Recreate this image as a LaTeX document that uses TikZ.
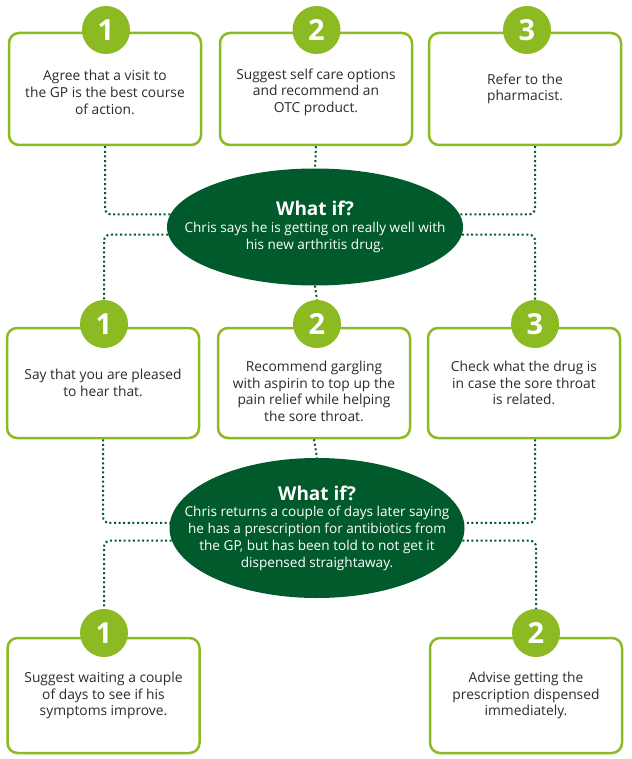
\documentclass[tikz,border=0pt]{standalone}
\usepackage{fontspec}
\setmainfont{Open Sans}
\usetikzlibrary{shapes.geometric}
\definecolor{leaf}{HTML}{8CBA22}
\definecolor{forest}{HTML}{005A2C}
\definecolor{inkgrey}{HTML}{2B2B2B}
\tikzset{
  optbox/.style={draw=leaf, line width=2.5pt, rounded corners=10pt, fill=white,
    minimum width=192pt, align=center, text=inkgrey, inner sep=0pt,
    font=\fontsize{13.8}{16.7}\selectfont},
  numdot/.style={circle, fill=leaf, minimum size=48pt, inner sep=0pt, text=white,
    font=\fontsize{29}{29}\bfseries\selectfont},
  whatif/.style={ellipse, fill=forest, inner sep=0pt},
  whattext/.style={align=center, text=white, inner sep=0pt,
    font=\fontsize{13.6}{16.7}\selectfont},
  link/.style={forest, line width=2pt, dash pattern=on 2pt off 2.6pt, rounded corners=6pt},
}
\newcommand{\whathead}{{\fontsize{19}{19}\bfseries\selectfont What if?}}
% strut on a first line, to push a box text a little down
\newcommand{\pushdown}[1]{\rule{0pt}{#1}}
\begin{document}
\begin{tikzpicture}[x=1pt,y=-1pt]
\useasboundingbox (0,0) rectangle (631,759);
% first row
\node[optbox, minimum height=112pt] (a1) at (105,89) {\pushdown{17pt}Agree that a visit to\\the GP is the best course\\of action.};
\node[optbox, minimum height=112pt] (a2) at (316,89) {\pushdown{17pt}Suggest self care options\\and recommend an\\OTC product.};
\node[optbox, minimum height=112pt] (a3) at (525,89) {Refer to the\\pharmacist.};
% first question
\node[whatif, minimum width=296pt, minimum height=117pt] (whatA) at (315,227) {};
\node[whattext] at (whatA) {\whathead\\Chris says he is getting on really well with\\his new arthritis drug.};
% second row
\node[optbox, minimum height=110pt] (b1) at (103,383) {Say that you are pleased\\to hear that.};
\node[optbox, minimum height=110pt] (b2) at (314,383) {\pushdown{27pt}Recommend gargling\\with aspirin to top up the\\pain relief while helping\\the sore throat.};
\node[optbox, minimum height=110pt] (b3) at (524,383) {Check what the drug is\\in case the sore throat\\is related.};
% second question
\node[whatif, minimum width=295pt, minimum height=140pt] (whatB) at (317,528) {};
\node[whattext] at (whatB) {\whathead\\Chris returns a couple of days later saying\\he has a prescription for antibiotics from\\the GP, but has been told to not get it\\dispensed straightaway.};
% third row
\node[optbox, minimum height=115pt] (c1) at (103.5,695.5) {Suggest waiting a couple\\of days to see if his\\symptoms improve.};
\node[optbox, minimum height=115pt] (c2) at (526,695.5) {Advise getting the\\prescription dispensed\\immediately.};
% numbers
\node[numdot] (na1) at (106,30) {1};
\node[numdot] (na2) at (316.5,30) {2};
\node[numdot] (na3) at (527,30) {3};
\node[numdot] (nb1) at (104,324) {1};
\node[numdot] (nb2) at (317,324) {2};
\node[numdot] (nb3) at (535,324) {3};
\node[numdot] (nc1) at (104,633) {1};
\node[numdot] (nc2) at (536,633) {2};
% connectors
\draw[link] (a1.south) |- (whatA.175);
\draw[link] (a2.south) -- (whatA.north);
\draw[link] ([xshift=10pt]a3.south) |- (whatA.5);
\draw[link] (whatA.183) -| (nb1.north);
\draw[link] (whatA.south) -- (nb2.north);
\draw[link] (whatA.357) -| (nb3.north);
\draw[link] (b1.south) |- (whatB.178);
\draw[link] (b2.south) -- (whatB.north);
\draw[link] ([xshift=11pt]b3.south) |- (whatB.2);
\draw[link] (whatB.185) -| (nc1.north);
\draw[link] (whatB.355) -| (nc2.north);
\end{tikzpicture}
\end{document}
